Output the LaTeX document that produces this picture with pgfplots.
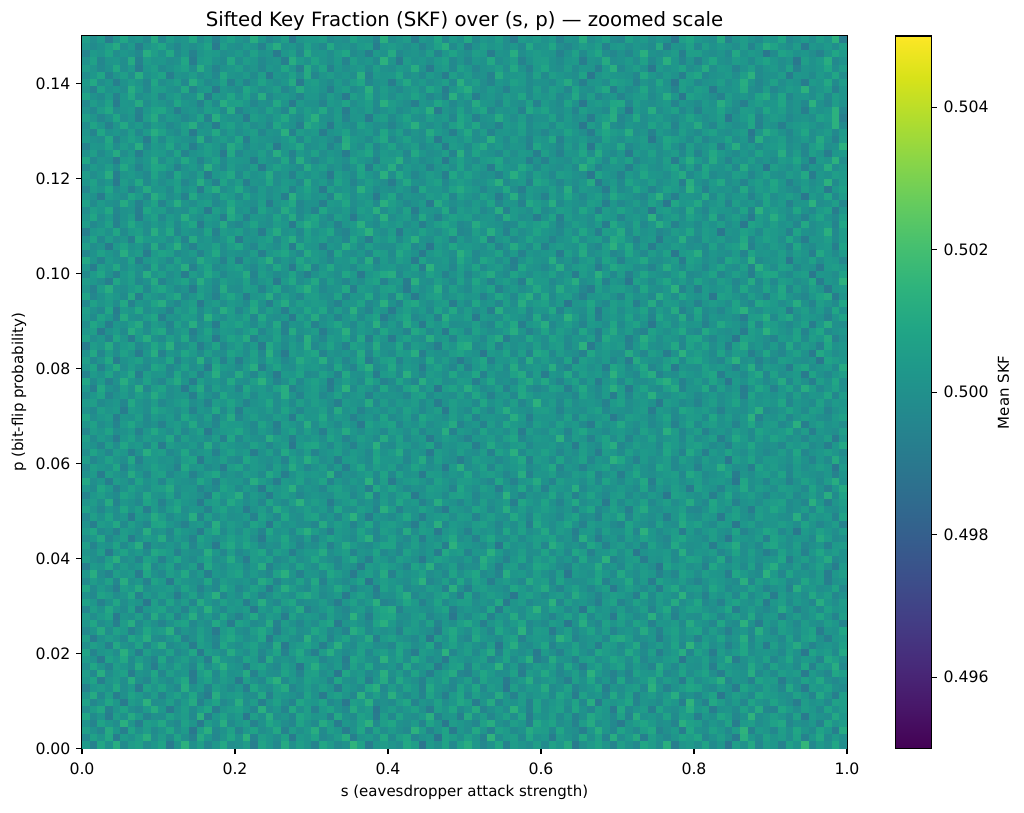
\documentclass[border=0pt]{standalone}
\usepackage{fontspec}
\setmainfont{DejaVu Sans}
\usepackage{pgfplots}
\pgfplotsset{compat=1.18}
\usepgfplotslibrary{colormaps}
\pgfdeclareplotmark{skfcell}{\pgfpathrectangle{\pgfpoint{-2.79pt}{-2.6pt}}{\pgfpoint{5.58pt}{5.2pt}}\pgfusepath{fill}}
% one grid row: #1 = row index j (p = 0.0015 j + 0.00075), #2 = values d of the 100 cells (s = 0.005 ... 0.995),
% Mean SKF = 0.5 + d * 0.0001
\newcommand\skfrow[2]{\addplot[scatter, only marks, scatter src=explicit, mark=skfcell, restrict x to domain=0:1]
  table[row sep=\\, header=false, x expr={\coordindex*0.01+0.005}, y expr={#1*0.0015+0.00075}, meta index=0] {#2};}
\begin{document}
\begin{tikzpicture}
\useasboundingbox (-59.04pt,-45.72pt) rectangle (678.24pt,538.92pt);
\begin{axis}[
  scale only axis, width=550.8pt, height=513pt,
  xmin=0, xmax=1, ymin=0, ymax=0.15,
  colormap/viridis, point meta min=-50, point meta max=50,
  axis line style={line width=0.8pt}, every tick/.style={black, line width=0.8pt},
  tick align=outside, major tick length=4pt,
  xtick pos=bottom, ytick pos=left,
  tick label style={font=\fontsize{11.3}{13.5}\selectfont},
  label style={font=\fontsize{10.8}{13}\selectfont},
  xtick={0,0.2,0.4,0.6,0.8,1}, xticklabels={0.0,0.2,0.4,0.6,0.8,1.0},
  ytick={0,0.02,0.04,0.06,0.08,0.10,0.12,0.14},
  yticklabels={0.00,0.02,0.04,0.06,0.08,0.10,0.12,0.14},
  xticklabel style={anchor=north, inner sep=0pt, yshift=-6.3pt},
  yticklabel style={anchor=east, inner sep=0pt, xshift=-4.1pt},
  every axis title shift=0pt,
  title={Sifted Key Fraction (SKF) over (s, p) — zoomed scale},
  title style={at={([yshift=6.8pt]axis description cs:0.5,1)}, anchor=base, font=\fontsize{14.2}{17}\selectfont},
  xlabel={s (eavesdropper attack strength)},
  xlabel style={at={([yshift=-31.5pt]axis description cs:0.5,0)}, anchor=center},
  ylabel={p (bit-flip probability)},
  ylabel style={at={([xshift=-45.4pt]axis description cs:0,0.5)}, anchor=center},
  colorbar,
  colorbar/width=25.92pt,
  colorbar style={
    at={(parent axis.north east)}, anchor=north west, xshift=26.3pt,
    scale only axis, width=25.92pt, height=513pt,
    axis line style={line width=0.8pt},
    tick align=outside, major tick length=4pt,
    ytick pos=right, yticklabel pos=right,
    tick label style={font=\fontsize{11.3}{13.5}\selectfont},
    ytick={-40,-20,0,20,40}, yticklabels={0.496,0.498,0.500,0.502,0.504},
    yticklabel style={anchor=west, inner sep=0pt, xshift=4.6pt},
    ylabel={Mean SKF},
    ylabel style={at={([xshift=51.8pt]axis description cs:1,0.5)}, anchor=center, font=\fontsize{10.8}{13}\selectfont},
  },
]
\skfrow{0}{4\\-6\\9\\1\\12\\-2\\5\\7\\-1\\3\\ 8\\-9\\2\\14\\0\\6\\-4\\3\\10\\-1\\ 1\\5\\-7\\8\\3\\-3\\11\\0\\6\\2\\ -5\\9\\4\\-2\\1\\15\\7\\-8\\3\\5\\ 2\\-1\\10\\6\\-11\\4\\0\\8\\-3\\7\\ 12\\3\\-4\\1\\9\\-6\\5\\2\\-1\\6\\ -2\\7\\3\\11\\-9\\0\\4\\8\\2\\-5\\ 6\\1\\-3\\9\\5\\-1\\13\\-7\\2\\4\\ 0\\8\\-2\\3\\-10\\6\\1\\10\\-4\\5\\ 3\\-6\\7\\2\\16\\-3\\4\\0\\9\\-1\\}
\skfrow{1}{-3\\7\\2\\10\\-8\\4\\1\\6\\13\\-1\\ 5\\-2\\8\\0\\-6\\11\\3\\-4\\2\\9\\ 1\\14\\-5\\6\\3\\-1\\7\\-9\\4\\2\\ 8\\-3\\0\\5\\12\\-7\\2\\4\\-1\\10\\ -2\\6\\9\\-4\\1\\3\\-11\\8\\5\\0\\ 7\\2\\-6\\15\\-1\\4\\6\\-3\\9\\1\\ 3\\-8\\5\\2\\-2\\10\\0\\7\\-5\\12\\ -1\\4\\11\\-7\\6\\1\\-3\\2\\8\\5\\ 9\\-4\\1\\6\\0\\-9\\13\\3\\-2\\7\\ 2\\5\\-1\\8\\-6\\3\\10\\-2\\4\\0\\}
\skfrow{2}{6\\1\\-4\\11\\3\\-7\\8\\0\\5\\-2\\ 2\\9\\-1\\4\\-10\\6\\13\\-3\\1\\7\\ -5\\3\\8\\-1\\2\\10\\-6\\5\\0\\4\\ 12\\-2\\6\\3\\-8\\1\\9\\-4\\7\\-1\\ 4\\0\\-3\\14\\5\\-5\\2\\8\\-9\\3\\ -1\\10\\2\\-6\\7\\4\\-2\\1\\11\\6\\ 5\\-3\\9\\1\\-1\\-7\\3\\12\\2\\-4\\ 8\\2\\-2\\6\\10\\-5\\0\\4\\-8\\9\\ 1\\-1\\7\\3\\-3\\5\\15\\-6\\4\\2\\ -4\\6\\0\\9\\2\\-2\\8\\3\\-7\\11\\}
\skfrow{3}{1\\-5\\8\\3\\-1\\13\\2\\-7\\6\\4\\ 10\\0\\-3\\7\\2\\-9\\5\\1\\12\\-2\\ 3\\6\\-6\\1\\9\\4\\-1\\-4\\8\\2\\ -2\\11\\5\\-8\\3\\0\\7\\14\\-3\\6\\ 9\\1\\-1\\4\\-5\\8\\2\\-10\\5\\3\\ 0\\-4\\7\\12\\1\\-2\\6\\3\\-7\\10\\ 4\\8\\-1\\2\\-6\\5\\11\\0\\3\\-3\\ -9\\2\\6\\9\\4\\-1\\1\\-5\\13\\7\\ 5\\-2\\3\\0\\8\\-8\\4\\6\\-1\\2\\ 7\\10\\-4\\1\\-1\\3\\-6\\9\\2\\5\\}
\skfrow{4}{9\\-2\\3\\-8\\6\\1\\11\\4\\-5\\0\\ -1\\7\\2\\5\\-3\\14\\-7\\3\\8\\1\\ 4\\-10\\6\\0\\12\\-1\\2\\-4\\9\\5\\ 2\\3\\-6\\10\\1\\-2\\7\\4\\-9\\6\\ -3\\8\\1\\-1\\4\\13\\-5\\2\\3\\-7\\ 11\\0\\5\\-4\\2\\7\\-1\\9\\-8\\3\\ 1\\6\\-2\\4\\-6\\0\\10\\5\\2\\-3\\ 7\\-5\\12\\1\\3\\-1\\8\\-2\\6\\4\\ -7\\3\\0\\9\\5\\-4\\1\\15\\-1\\2\\ 6\\2\\-3\\7\\-9\\4\\1\\-1\\10\\3\\}
\skfrow{5}{-1\\5\\10\\-6\\2\\8\\0\\-3\\4\\12\\ 3\\-9\\1\\6\\-2\\4\\9\\-7\\2\\5\\ 7\\2\\-4\\13\\-1\\3\\-5\\10\\0\\6\\ -6\\4\\8\\1\\-3\\11\\2\\5\\-10\\1\\ 5\\-1\\3\\7\\0\\-8\\6\\2\\9\\-2\\ 2\\11\\-5\\0\\4\\-1\\14\\3\\-6\\8\\ 0\\4\\7\\-2\\9\\1\\-4\\6\\3\\-9\\ 10\\-3\\2\\5\\-7\\8\\1\\-1\\4\\12\\ 3\\6\\-8\\1\\2\\-2\\7\\0\\11\\-4\\ -5\\9\\4\\-1\\6\\3\\-3\\8\\1\\5\\}
\skfrow{6}{7\\-4\\1\\9\\3\\-9\\5\\2\\14\\-1\\ 0\\6\\-2\\4\\11\\-6\\3\\8\\-3\\1\\ 12\\-1\\5\\-7\\2\\7\\0\\-5\\9\\4\\ 3\\8\\-3\\1\\-10\\6\\4\\13\\-2\\0\\ -2\\5\\9\\-5\\2\\0\\7\\-1\\3\\10\\ 6\\-8\\2\\11\\-4\\3\\1\\5\\-6\\8\\ -1\\3\\6\\0\\8\\-3\\12\\-9\\4\\2\\ 4\\9\\-5\\2\\1\\-2\\6\\3\\-7\\15\\ 1\\-6\\10\\5\\-1\\4\\-4\\8\\2\\0\\ 8\\2\\-1\\-8\\5\\1\\3\\-3\\7\\6\\}
\skfrow{7}{2\\11\\-3\\6\\-7\\0\\8\\4\\-1\\5\\ -5\\3\\7\\1\\9\\-2\\-8\\12\\2\\4\\ 6\\0\\-1\\10\\-6\\5\\3\\1\\-3\\8\\ 1\\-9\\4\\7\\2\\-4\\14\\0\\6\\-1\\ 13\\2\\-2\\3\\-5\\8\\1\\-7\\4\\9\\ -3\\6\\1\\-1\\11\\2\\-6\\5\\0\\3\\ 5\\-2\\9\\4\\-8\\7\\1\\3\\-4\\10\\ 0\\7\\-6\\2\\5\\-1\\4\\12\\-2\\1\\ -4\\3\\8\\-10\\1\\6\\2\\-3\\9\\5\\ 4\\1\\-1\\7\\3\\-5\\10\\2\\-7\\6\\}
\skfrow{8}{-6\\3\\5\\1\\10\\-1\\4\\-9\\7\\2\\ 8\\1\\-3\\12\\0\\4\\-5\\6\\2\\-2\\ 3\\-7\\9\\2\\-1\\6\\11\\-4\\1\\5\\ 0\\6\\2\\-8\\4\\1\\-2\\9\\13\\-3\\ 5\\-1\\7\\3\\-6\\10\\2\\0\\-4\\8\\ 1\\9\\-3\\5\\2\\-10\\6\\-1\\4\\3\\ 11\\-2\\1\\7\\-5\\0\\3\\8\\-7\\2\\ -1\\4\\6\\-3\\14\\2\\-6\\1\\5\\9\\ 7\\0\\-2\\4\\1\\-8\\8\\3\\-1\\6\\ 2\\-4\\10\\1\\-9\\5\\3\\7\\0\\-2\\}
\skfrow{9}{3\\8\\-7\\2\\5\\-1\\12\\0\\-4\\6\\ 1\\-2\\4\\10\\-8\\3\\7\\-1\\5\\2\\ -9\\6\\1\\-3\\8\\14\\-2\\4\\0\\7\\ 4\\2\\-5\\9\\1\\-1\\6\\-7\\3\\11\\ -2\\10\\3\\0\\-6\\5\\2\\8\\-3\\1\\ 6\\-4\\8\\2\\3\\-9\\0\\4\\12\\-1\\ 2\\5\\-1\\-7\\6\\1\\9\\-2\\3\\-5\\ 9\\-3\\0\\4\\11\\-1\\5\\2\\-8\\7\\ -1\\3\\6\\13\\-4\\2\\1\\-6\\8\\4\\ 5\\-8\\2\\-1\\7\\3\\10\\0\\-3\\1\\}
\skfrow{10}{5\\-3\\12\\-1\\4\\7\\-8\\2\\0\\9\\ -4\\6\\1\\3\\-9\\5\\10\\-2\\7\\1\\ 2\\11\\-6\\4\\0\\-1\\8\\3\\-5\\6\\ 7\\-1\\3\\-10\\9\\2\\4\\-3\\1\\13\\ 0\\5\\-2\\8\\1\\-7\\3\\6\\11\\-4\\ -6\\2\\9\\4\\-1\\0\\7\\-8\\5\\2\\ 10\\3\\-4\\1\\6\\-2\\14\\4\\-1\\-6\\ 1\\-5\\7\\3\\2\\9\\-3\\0\\8\\-1\\ 4\\8\\-1\\-7\\5\\2\\1\\12\\-2\\3\\ -2\\6\\3\\5\\-9\\4\\0\\-4\\9\\6\\}
\skfrow{11}{-1\\9\\2\\-5\\6\\3\\-2\\11\\1\\-8\\ 4\\0\\7\\2\\-4\\9\\-1\\5\\13\\3\\ 1\\-7\\5\\8\\0\\-3\\6\\2\\-10\\4\\ 12\\3\\-1\\4\\-6\\7\\1\\9\\-2\\0\\ 3\\-4\\10\\-1\\2\\5\\-9\\1\\6\\8\\ -5\\7\\1\\3\\14\\-2\\4\\-6\\0\\5\\ 2\\6\\-3\\9\\1\\-8\\3\\7\\-1\\4\\ 8\\-2\\4\\0\\-5\\11\\2\\-3\\6\\1\\ 0\\5\\-7\\6\\3\\1\\-1\\10\\2\\-4\\ 7\\1\\3\\-2\\9\\-6\\5\\2\\12\\-3\\}
\skfrow{12}{4\\1\\-9\\7\\3\\10\\-2\\5\\0\\-5\\ 9\\-3\\2\\6\\-1\\4\\-7\\12\\3\\1\\ -2\\8\\4\\-6\\11\\0\\2\\-1\\7\\5\\ 6\\-4\\1\\3\\-8\\9\\5\\0\\-2\\14\\ 2\\7\\-1\\10\\4\\-3\\1\\-9\\5\\3\\ 0\\3\\6\\-5\\1\\8\\-2\\4\\13\\-7\\ -3\\11\\2\\1\\-6\\5\\7\\-1\\3\\9\\ 5\\-1\\8\\-4\\2\\0\\4\\6\\-10\\2\\ 1\\6\\-2\\3\\12\\-8\\0\\5\\1\\7\\ -4\\2\\9\\-1\\4\\3\\-5\\10\\6\\0\\}
\skfrow{13}{8\\-5\\2\\4\\-1\\13\\3\\-7\\6\\1\\ 0\\7\\-3\\1\\9\\-9\\5\\2\\-1\\11\\ 3\\-1\\6\\-4\\2\\8\\-6\\4\\10\\0\\ -7\\5\\12\\2\\-2\\1\\7\\-3\\4\\6\\ 1\\9\\-1\\-8\\5\\3\\0\\14\\-4\\2\\ 6\\-2\\4\\11\\-5\\7\\2\\-1\\3\\-9\\ 4\\0\\-6\\3\\8\\1\\-3\\9\\5\\2\\ -1\\10\\3\\-2\\6\\-7\\1\\4\\12\\-4\\ 7\\2\\-8\\5\\0\\4\\9\\-1\\2\\3\\ 2\\-3\\6\\1\\-10\\8\\3\\5\\-2\\10\\}
\skfrow{14}{0\\6\\3\\-6\\10\\2\\-1\\8\\-4\\5\\ 12\\-2\\1\\4\\-8\\6\\3\\-5\\9\\2\\ -1\\4\\7\\0\\-3\\11\\-9\\2\\5\\8\\ 3\\-7\\2\\13\\1\\-2\\6\\4\\-1\\0\\ -4\\8\\5\\-1\\2\\9\\-6\\3\\7\\1\\ 5\\1\\-3\\6\\-10\\4\\12\\0\\-2\\3\\ 9\\-5\\2\\1\\7\\-1\\3\\-7\\6\\4\\ -2\\3\\10\\-4\\1\\5\\0\\8\\-3\\15\\ 2\\7\\-1\\3\\-6\\1\\9\\-2\\4\\-8\\ 6\\-1\\4\\11\\2\\-5\\1\\3\\0\\7\\}
\skfrow{15}{6\\-8\\1\\5\\2\\-3\\9\\4\\12\\-1\\ -2\\3\\8\\-6\\0\\7\\1\\-4\\6\\10\\ 4\\-1\\2\\9\\-9\\3\\5\\0\\-2\\13\\ 1\\6\\-5\\3\\8\\-1\\2\\11\\-7\\4\\ 7\\2\\0\\-3\\4\\-10\\6\\1\\9\\-1\\ -4\\10\\3\\1\\-2\\5\\8\\-6\\2\\4\\ 3\\-1\\14\\7\\-5\\0\\2\\4\\-3\\9\\ 11\\5\\-2\\0\\3\\-8\\1\\6\\-1\\2\\ -6\\4\\1\\8\\-1\\2\\12\\-4\\5\\3\\ 2\\-3\\7\\-2\\6\\9\\0\\-7\\3\\5\\}
\skfrow{16}{-3\\2\\11\\-1\\7\\4\\-6\\0\\9\\3\\ 5\\13\\-4\\2\\-1\\6\\1\\-9\\4\\8\\ 0\\-2\\5\\10\\3\\-7\\2\\6\\-1\\1\\ 9\\4\\-3\\1\\-5\\12\\7\\-2\\3\\0\\ 2\\-6\\6\\4\\1\\-1\\-8\\5\\10\\3\\ -1\\7\\2\\-4\\9\\3\\0\\14\\-2\\5\\ 4\\-9\\1\\6\\-3\\2\\8\\-1\\5\\-5\\ 1\\3\\-1\\11\\2\\-6\\4\\7\\0\\6\\ 8\\-2\\5\\0\\-7\\1\\3\\-3\\12\\2\\ -4\\6\\3\\-1\\4\\8\\-8\\2\\1\\9\\}
\skfrow{17}{2\\9\\-1\\3\\-7\\5\\12\\-2\\4\\0\\ -5\\1\\6\\8\\-3\\2\\-1\\10\\3\\-8\\ 7\\4\\-2\\0\\11\\-6\\5\\1\\-4\\3\\ -1\\6\\9\\-9\\2\\4\\1\\-3\\8\\13\\ 4\\-2\\1\\5\\-1\\7\\-5\\3\\0\\6\\ 10\\3\\-7\\2\\6\\-1\\4\\9\\-3\\1\\ -2\\5\\3\\-10\\1\\12\\0\\-4\\7\\2\\ 6\\-1\\8\\4\\-6\\3\\2\\5\\-2\\11\\ 3\\1\\-4\\9\\0\\-2\\14\\1\\-8\\4\\ 0\\7\\2\\-3\\5\\1\\-1\\6\\3\\-5\\}
\skfrow{18}{5\\-1\\4\\8\\-9\\2\\0\\6\\-3\\11\\ 1\\7\\-5\\3\\12\\-1\\4\\-2\\9\\0\\ -6\\2\\10\\-1\\5\\3\\-8\\7\\1\\4\\ 3\\-3\\6\\1\\-2\\14\\2\\-7\\5\\8\\ 9\\0\\-1\\4\\7\\-4\\1\\3\\-10\\2\\ -2\\4\\8\\-6\\3\\1\\11\\-1\\6\\5\\ 1\\-5\\2\\7\\0\\9\\-3\\4\\2\\-9\\ 7\\3\\-2\\1\\13\\-1\\5\\-6\\3\\0\\ -1\\8\\4\\-4\\2\\6\\0\\10\\-2\\3\\ 4\\-7\\1\\5\\-1\\3\\9\\2\\-5\\6\\}
\skfrow{19}{-4\\6\\1\\10\\2\\-2\\7\\-8\\3\\5\\ 8\\-1\\3\\-5\\6\\0\\13\\2\\-3\\4\\ 2\\5\\-9\\4\\1\\8\\-1\\3\\11\\-6\\ -1\\3\\7\\0\\-4\\2\\5\\-2\\6\\9\\ 12\\-6\\2\\3\\1\\-1\\4\\8\\-7\\0\\ 3\\1\\-2\\9\\-8\\6\\2\\-1\\5\\14\\ 0\\7\\4\\-3\\2\\-10\\8\\1\\3\\-1\\ 5\\-2\\1\\6\\-5\\4\\10\\-4\\2\\7\\ 6\\2\\-1\\3\\9\\-7\\1\\5\\0\\-3\\ 1\\11\\3\\-6\\0\\4\\-2\\7\\2\\4\\}
\skfrow{20}{7\\3\\-6\\1\\9\\-1\\4\\2\\-10\\6\\ -2\\8\\0\\5\\-4\\11\\3\\-1\\7\\2\\ 4\\-7\\2\\12\\1\\-3\\6\\9\\-2\\0\\ 1\\5\\-1\\-8\\3\\7\\0\\4\\13\\-5\\ -3\\2\\9\\4\\-6\\1\\8\\-2\\3\\6\\ 6\\-1\\3\\0\\10\\-9\\2\\5\\-3\\1\\ 2\\14\\-4\\6\\1\\3\\-1\\-7\\4\\8\\ -5\\0\\7\\2\\-2\\5\\1\\11\\-1\\3\\ 9\\-3\\1\\-6\\4\\8\\2\\0\\6\\-8\\ 3\\6\\-2\\4\\1\\-4\\12\\3\\-1\\5\\}
\skfrow{21}{1\\-3\\8\\5\\-1\\2\\10\\-6\\4\\0\\ 6\\2\\-8\\1\\7\\-2\\4\\13\\-4\\3\\ -1\\9\\3\\-5\\0\\6\\2\\-1\\8\\11\\ 5\\-2\\1\\4\\-9\\3\\7\\2\\-6\\1\\ 0\\6\\12\\-3\\2\\-1\\5\\9\\1\\-7\\ 8\\-4\\2\\6\\3\\0\\-10\\4\\7\\2\\ -2\\3\\5\\-1\\11\\4\\1\\-5\\2\\6\\ 4\\1\\-7\\9\\-2\\6\\3\\0\\14\\-1\\ 2\\-6\\4\\1\\5\\-3\\8\\-2\\3\\7\\ -8\\5\\0\\3\\-1\\10\\2\\6\\-4\\1\\}
\skfrow{22}{9\\-2\\4\\0\\-7\\6\\3\\11\\-1\\2\\ 3\\5\\-1\\8\\2\\-6\\1\\-3\\10\\4\\ -4\\1\\7\\3\\-9\\2\\12\\5\\0\\-2\\ 6\\-1\\2\\10\\4\\-5\\1\\3\\-8\\7\\ 2\\8\\-3\\1\\-1\\5\\3\\-6\\13\\0\\ -7\\4\\6\\2\\1\\-2\\9\\4\\-1\\5\\ 11\\0\\-5\\3\\7\\1\\-4\\2\\6\\-9\\ 1\\6\\2\\-2\\3\\-8\\5\\10\\-1\\4\\ 5\\-1\\9\\4\\-3\\1\\0\\7\\2\\-5\\ 0\\3\\-6\\12\\2\\4\\-1\\1\\8\\-3\\}
\skfrow{23}{-2\\5\\1\\7\\-4\\12\\0\\3\\-6\\8\\ 4\\-9\\6\\2\\1\\-1\\9\\-3\\5\\2\\ 1\\3\\-2\\11\\6\\-5\\2\\0\\7\\-1\\ 10\\-6\\4\\1\\-2\\3\\8\\-10\\2\\6\\ 3\\1\\-1\\5\\14\\-4\\0\\6\\-2\\9\\ -1\\7\\3\\-7\\2\\5\\1\\-3\\11\\4\\ 6\\-4\\8\\1\\-1\\0\\4\\9\\-6\\2\\ 2\\10\\-2\\4\\-8\\7\\3\\1\\5\\-1\\ -5\\1\\5\\3\\0\\-2\\13\\-4\\6\\2\\ 7\\4\\-3\\-1\\9\\2\\5\\-7\\1\\3\\}
\skfrow{24}{3\\12\\-1\\-5\\6\\2\\4\\-8\\9\\1\\ -3\\6\\2\\10\\-1\\4\\-7\\3\\1\\5\\ 8\\-1\\4\\0\\-4\\7\\13\\2\\-6\\3\\ 2\\-2\\9\\5\\1\\-9\\3\\6\\0\\11\\ -6\\4\\1\\3\\7\\-1\\2\\-3\\8\\0\\ 5\\9\\-2\\1\\-5\\12\\3\\4\\-1\\6\\ 1\\-3\\6\\-10\\4\\2\\0\\8\\3\\-2\\ 10\\2\\-1\\5\\3\\-6\\1\\-4\\7\\4\\ -1\\6\\3\\2\\-7\\9\\4\\0\\-2\\14\\ 4\\-4\\8\\1\\2\\-1\\5\\-8\\3\\6\\}
\skfrow{25}{-7\\4\\2\\9\\-1\\5\\0\\3\\11\\-3\\ 2\\7\\-4\\1\\6\\-8\\10\\2\\-1\\4\\ 5\\-2\\3\\12\\-6\\1\\4\\-1\\8\\2\\ -1\\9\\6\\-3\\2\\0\\-9\\5\\3\\7\\ 4\\1\\-5\\8\\3\\13\\-2\\1\\6\\-4\\ 0\\-1\\10\\2\\-7\\4\\6\\-3\\1\\9\\ 7\\3\\-2\\-5\\5\\1\\2\\11\\-1\\3\\ -3\\6\\1\\4\\-1\\-10\\8\\3\\5\\0\\ 2\\-6\\9\\3\\1\\4\\-2\\7\\-4\\6\\ 12\\1\\-1\\5\\-3\\2\\7\\0\\-8\\4\\}
\skfrow{26}{5\\0\\-3\\6\\13\\-1\\2\\-5\\7\\4\\ -6\\3\\9\\1\\-2\\4\\8\\-1\\2\\11\\ 1\\-8\\5\\3\\7\\-3\\0\\6\\-1\\2\\ 9\\2\\-1\\-4\\4\\10\\1\\-7\\5\\3\\ -2\\6\\3\\0\\-9\\2\\7\\4\\1\\-1\\ 4\\-3\\12\\5\\1\\-6\\3\\8\\-2\\6\\ 2\\7\\-1\\3\\-4\\9\\-1\\1\\14\\-5\\ -1\\4\\6\\-8\\2\\1\\5\\-2\\3\\8\\ 6\\-2\\1\\10\\-5\\3\\0\\4\\-1\\2\\ 3\\9\\-7\\2\\6\\-1\\4\\11\\-3\\1\\}
\skfrow{27}{2\\-1\\6\\-9\\3\\8\\1\\4\\-2\\10\\ 7\\4\\-6\\2\\0\\-1\\12\\3\\-4\\5\\ -3\\1\\5\\9\\-2\\6\\3\\-7\\1\\4\\ 4\\11\\-1\\3\\6\\-5\\2\\1\\8\\-3\\ 1\\-4\\7\\2\\-1\\3\\-8\\10\\4\\6\\ -5\\3\\2\\13\\4\\-2\\1\\6\\-1\\0\\ 8\\-1\\4\\-3\\9\\5\\-6\\2\\3\\7\\ 0\\6\\-10\\1\\3\\2\\4\\-2\\12\\-1\\ 3\\2\\5\\-4\\1\\8\\-1\\6\\0\\-7\\ -2\\7\\1\\4\\-6\\3\\9\\2\\5\\1\\}
\skfrow{28}{6\\-5\\3\\1\\8\\-2\\4\\12\\-7\\2\\ 0\\3\\-1\\7\\-4\\5\\2\\-9\\6\\10\\ 2\\9\\4\\-3\\1\\-1\\7\\3\\-5\\1\\ -1\\5\\-6\\2\\11\\4\\0\\-2\\3\\8\\ 8\\-3\\1\\6\\-1\\2\\5\\-7\\14\\4\\ 3\\1\\-2\\4\\-10\\7\\1\\3\\-1\\6\\ -4\\12\\6\\0\\2\\-3\\9\\4\\-6\\2\\ 5\\-1\\3\\-5\\7\\1\\-2\\10\\2\\0\\ 1\\4\\-8\\3\\5\\11\\-1\\2\\-3\\7\\ 9\\2\\-1\\6\\-4\\0\\3\\-6\\4\\5\\}
\skfrow{29}{-1\\3\\10\\-4\\2\\6\\-8\\1\\5\\3\\ 11\\-2\\4\\1\\-6\\8\\3\\-1\\2\\7\\ 3\\6\\-1\\-9\\4\\2\\9\\0\\-3\\5\\ -5\\2\\8\\4\\1\\-2\\6\\13\\-4\\1\\ 7\\1\\-3\\5\\-7\\3\\0\\4\\10\\-1\\ 2\\-6\\4\\9\\1\\-1\\5\\-2\\3\\6\\ 4\\8\\-1\\2\\-5\\12\\2\\-8\\1\\3\\ -3\\5\\1\\7\\3\\-1\\-4\\6\\9\\2\\ 1\\-2\\6\\0\\-10\\4\\3\\1\\5\\-6\\ 8\\4\\-1\\3\\2\\-3\\11\\5\\-2\\0\\}
\skfrow{30}{4\\9\\-2\\1\\-6\\5\\3\\-1\\12\\0\\ 2\\-4\\7\\3\\1\\-8\\5\\10\\-2\\4\\ -1\\6\\2\\-5\\9\\1\\3\\-3\\7\\13\\ 5\\0\\-7\\4\\2\\-1\\8\\1\\-4\\6\\ 3\\-2\\11\\-1\\6\\4\\-9\\2\\5\\1\\ -6\\4\\1\\3\\-2\\9\\0\\7\\-1\\2\\ 10\\-1\\5\\2\\-7\\3\\4\\-3\\6\\1\\ 1\\7\\-4\\14\\3\\-2\\2\\5\\-8\\4\\ -2\\3\\6\\1\\-1\\8\\-5\\0\\3\\9\\ 6\\-3\\2\\-10\\4\\1\\7\\3\\-1\\5\\}
\skfrow{31}{1\\-7\\5\\3\\10\\-2\\6\\1\\-4\\8\\ 9\\3\\-1\\-6\\2\\4\\-3\\12\\1\\5\\ 2\\-2\\8\\4\\-9\\6\\1\\3\\-1\\0\\ -4\\11\\1\\6\\3\\-5\\2\\9\\-2\\4\\ 6\\2\\-1\\-8\\5\\1\\13\\-3\\4\\2\\ 0\\5\\7\\2\\-4\\3\\-1\\6\\-7\\10\\ 3\\-1\\4\\9\\1\\-6\\5\\2\\3\\-2\\ -5\\8\\2\\0\\-3\\7\\1\\-1\\11\\4\\ 7\\1\\-2\\5\\4\\-10\\3\\6\\-1\\2\\ 2\\6\\3\\-1\\8\\2\\-4\\1\\5\\-6\\}
\skfrow{32}{-3\\6\\1\\8\\-1\\3\\-9\\4\\2\\11\\ 5\\-2\\3\\1\\12\\-5\\6\\-1\\4\\0\\ 1\\4\\-6\\7\\2\\-3\\9\\1\\-1\\6\\ 8\\-1\\3\\-4\\5\\14\\2\\-8\\3\\1\\ -2\\3\\9\\1\\-7\\2\\4\\6\\-1\\5\\ 4\\-5\\2\\6\\1\\-1\\10\\3\\-4\\7\\ 2\\1\\-3\\4\\8\\-2\\0\\-6\\5\\3\\ 10\\-4\\6\\2\\-1\\3\\-7\\2\\9\\1\\ -1\\5\\3\\-9\\4\\7\\1\\-2\\6\\2\\ 3\\0\\-1\\12\\-3\\5\\2\\4\\-5\\8\\}
\skfrow{33}{7\\2\\-4\\3\\-1\\9\\1\\6\\-7\\4\\ -2\\5\\10\\-1\\3\\2\\-6\\4\\8\\1\\ 3\\-8\\1\\5\\-2\\11\\4\\-1\\2\\6\\ 1\\4\\-3\\9\\0\\-1\\6\\3\\-5\\13\\ 5\\-6\\2\\1\\7\\3\\-2\\-9\\4\\2\\ -1\\8\\4\\-3\\2\\12\\1\\5\\-1\\3\\ 6\\3\\-1\\2\\-5\\4\\9\\-4\\1\\7\\ 2\\-7\\5\\11\\1\\-1\\3\\2\\6\\-3\\ -4\\1\\8\\3\\-1\\6\\0\\-8\\5\\2\\ 9\\4\\-2\\1\\5\\-3\\7\\1\\-1\\4\\}
\skfrow{34}{2\\5\\-1\\11\\-5\\3\\1\\-3\\8\\4\\ -6\\2\\7\\3\\1\\-9\\4\\6\\-1\\10\\ 4\\-1\\3\\-4\\8\\1\\-2\\5\\14\\2\\ 6\\3\\-8\\1\\4\\7\\-1\\2\\-3\\5\\ -1\\9\\2\\4\\-6\\0\\12\\3\\1\\-4\\ 3\\-2\\6\\-1\\2\\5\\-7\\9\\4\\1\\ 8\\1\\-5\\3\\10\\-1\\2\\4\\-9\\6\\ -2\\4\\1\\7\\-3\\2\\6\\-1\\3\\11\\ 1\\-3\\9\\2\\5\\-6\\1\\3\\-1\\4\\ 5\\7\\-2\\1\\-4\\13\\3\\-7\\2\\6\\}
\skfrow{35}{-5\\3\\6\\1\\-2\\8\\4\\-1\\10\\2\\ 1\\7\\-3\\4\\2\\-1\\-7\\9\\3\\5\\ 12\\-2\\4\\1\\-8\\3\\6\\2\\-4\\1\\ 3\\1\\-1\\6\\5\\-3\\2\\11\\-6\\4\\ -1\\5\\8\\-9\\1\\4\\3\\-2\\6\\7\\ 4\\-4\\2\\3\\-1\\14\\1\\-5\\2\\0\\ 2\\9\\-1\\5\\-6\\2\\8\\1\\-3\\4\\ 6\\-2\\3\\-1\\4\\1\\-10\\7\\5\\2\\ 0\\4\\-7\\2\\9\\-1\\3\\6\\1\\-4\\ 3\\1\\5\\-3\\2\\6\\-1\\12\\-2\\8\\}
\skfrow{36}{3\\-2\\9\\4\\-6\\1\\7\\2\\-1\\5\\ 6\\11\\-1\\2\\3\\-5\\1\\-3\\8\\4\\ -2\\4\\1\\-9\\6\\2\\5\\13\\-1\\3\\ 1\\-4\\5\\7\\2\\-1\\3\\-7\\10\\2\\ 8\\2\\-3\\1\\-1\\6\\4\\2\\-5\\9\\ 2\\-1\\6\\3\\-8\\4\\1\\9\\-2\\5\\ -6\\5\\3\\1\\12\\-3\\2\\4\\-1\\1\\ 4\\1\\-2\\8\\-4\\3\\-1\\6\\2\\-9\\ 7\\3\\1\\-5\\4\\2\\10\\-1\\5\\3\\ -1\\6\\4\\2\\-3\\8\\1\\-6\\3\\11\\}
\skfrow{37}{10\\-1\\3\\-7\\5\\2\\-3\\8\\1\\4\\ -4\\6\\2\\1\\-1\\9\\3\\-6\\5\\2\\ 3\\-2\\12\\5\\1\\-8\\4\\2\\7\\-1\\ 2\\8\\-5\\3\\-1\\4\\1\\14\\-3\\6\\ -9\\1\\4\\6\\2\\-2\\7\\3\\-1\\5\\ 5\\3\\-1\\-4\\9\\1\\-6\\2\\4\\11\\ 1\\-5\\6\\2\\3\\-1\\5\\-3\\8\\2\\ -2\\4\\1\\10\\-7\\6\\2\\4\\-1\\3\\ 6\\-1\\3\\4\\1\\-10\\9\\0\\2\\-4\\ 4\\2\\-6\\1\\7\\3\\-2\\5\\12\\1\\}
\skfrow{38}{1\\4\\-8\\6\\2\\-1\\11\\3\\-4\\5\\ 7\\-3\\2\\4\\-6\\1\\5\\9\\-1\\2\\ -1\\5\\3\\-2\\10\\4\\-7\\1\\6\\3\\ 4\\2\\13\\-5\\1\\-1\\3\\6\\-2\\8\\ -3\\7\\1\\2\\-9\\5\\4\\-1\\3\\1\\ 9\\-1\\4\\6\\2\\-4\\1\\12\\-6\\3\\ 2\\6\\-2\\-1\\5\\3\\8\\-5\\1\\4\\ -7\\3\\9\\1\\-1\\2\\4\\6\\-3\\10\\ 5\\-2\\1\\3\\7\\-8\\2\\-1\\4\\6\\ 1\\8\\-4\\5\\2\\1\\-1\\3\\-6\\2\\}
\skfrow{39}{-2\\6\\3\\1\\9\\-5\\4\\-1\\2\\7\\ 3\\1\\-6\\10\\2\\4\\-2\\1\\-8\\5\\ 8\\-1\\4\\2\\-3\\6\\1\\11\\3\\-4\\ 1\\5\\-2\\4\\-7\\3\\9\\-1\\6\\2\\ 6\\-3\\1\\8\\3\\-1\\2\\-9\\4\\13\\ -1\\2\\7\\-4\\5\\1\\3\\6\\-2\\1\\ 4\\10\\-5\\3\\1\\-6\\2\\4\\7\\-1\\ 2\\-1\\6\\1\\-2\\9\\5\\-3\\1\\3\\ -6\\3\\2\\12\\4\\-1\\1\\-7\\8\\2\\ 5\\1\\-3\\4\\-1\\2\\6\\3\\-10\\4\\}
\skfrow{40}{5\\-4\\1\\7\\2\\-1\\10\\-6\\3\\4\\ 1\\2\\-2\\5\\8\\-9\\3\\1\\6\\-1\\ -3\\9\\4\\1\\-1\\3\\-5\\7\\2\\12\\ 6\\-1\\2\\-7\\4\\5\\1\\-2\\9\\3\\ 2\\4\\-4\\3\\11\\-2\\6\\1\\-1\\-8\\ -1\\6\\3\\2\\-3\\1\\4\\10\\-6\\5\\ 3\\-2\\8\\-1\\2\\7\\-4\\3\\1\\14\\ 9\\1\\-6\\4\\-1\\2\\5\\-3\\6\\2\\ -2\\5\\1\\3\\-10\\6\\2\\8\\-1\\4\\ 4\\2\\-1\\6\\1\\-5\\3\\-2\\11\\1\\}
\skfrow{41}{-1\\8\\2\\-4\\5\\3\\-7\\1\\12\\4\\ 6\\-3\\1\\9\\-1\\2\\4\\-6\\3\\7\\ 2\\4\\-8\\1\\6\\-2\\10\\3\\-1\\5\\ -5\\1\\3\\6\\-1\\4\\2\\-3\\8\\1\\ 4\\11\\-2\\3\\1\\-9\\5\\2\\-1\\6\\ 1\\-1\\5\\-6\\7\\3\\13\\-2\\4\\2\\ 7\\3\\-4\\2\\-1\\6\\1\\-8\\5\\3\\ -2\\6\\1\\4\\3\\-1\\9\\2\\-5\\10\\ 3\\-7\\4\\1\\8\\2\\-1\\5\\1\\-3\\ 0\\5\\-1\\9\\-4\\1\\3\\6\\2\\-2\\}
\skfrow{42}{3\\1\\-5\\6\\-1\\9\\2\\4\\-3\\7\\ -8\\5\\2\\1\\4\\-2\\11\\-1\\6\\3\\ 1\\-1\\7\\3\\-4\\2\\5\\-10\\4\\8\\ 9\\2\\-3\\5\\1\\-6\\3\\1\\13\\-1\\ -2\\6\\4\\-1\\3\\8\\-5\\2\\1\\4\\ 5\\-7\\1\\10\\2\\-1\\4\\6\\-3\\2\\ 2\\4\\-1\\3\\-8\\5\\1\\-2\\7\\12\\ -4\\1\\6\\2\\3\\-3\\8\\4\\-1\\5\\ 7\\3\\-2\\1\\-6\\4\\2\\9\\1\\-1\\ 1\\-4\\5\\3\\6\\-2\\1\\-7\\3\\10\\}
\skfrow{43}{6\\-2\\4\\1\\-8\\3\\7\\-1\\5\\2\\ 2\\10\\-4\\6\\1\\3\\-1\\5\\-6\\9\\ -3\\4\\1\\-1\\12\\5\\2\\-7\\3\\1\\ 4\\-1\\8\\3\\-5\\1\\6\\2\\-2\\11\\ 1\\7\\-3\\2\\4\\-9\\1\\5\\3\\-1\\ -6\\3\\2\\5\\-1\\6\\9\\-4\\1\\4\\ 3\\1\\14\\-2\\5\\2\\-6\\3\\8\\-1\\ 5\\-5\\3\\1\\7\\-1\\2\\4\\-3\\6\\ -1\\2\\6\\-7\\1\\10\\4\\-2\\5\\1\\ 8\\4\\-1\\2\\-4\\3\\1\\6\\-9\\3\\}
\skfrow{44}{-4\\5\\2\\8\\-1\\1\\4\\-6\\3\\10\\ 3\\-1\\6\\-3\\2\\7\\-9\\1\\4\\5\\ 9\\2\\-2\\4\\1\\-5\\3\\8\\-1\\6\\ 1\\-7\\5\\2\\11\\3\\-1\\4\\2\\-3\\ 5\\3\\-1\\6\\-4\\2\\1\\12\\-6\\4\\ 2\\-2\\8\\1\\3\\-1\\6\\-8\\5\\1\\ -1\\6\\3\\-5\\4\\9\\2\\1\\-2\\3\\ 4\\1\\-3\\7\\2\\-1\\13\\5\\-4\\2\\ 6\\-6\\1\\3\\-1\\5\\2\\-2\\8\\4\\ 2\\4\\9\\-1\\5\\-7\\3\\1\\-1\\6\\}
\skfrow{45}{2\\7\\-1\\3\\-5\\4\\9\\2\\-2\\1\\ -6\\3\\5\\1\\10\\-1\\2\\-4\\6\\4\\ 4\\1\\-3\\8\\2\\-7\\5\\3\\-1\\12\\ -1\\6\\2\\-2\\4\\1\\-9\\7\\3\\5\\ 8\\-4\\3\\1\\6\\-1\\2\\4\\11\\-5\\ 1\\3\\-6\\5\\-1\\9\\4\\2\\-3\\6\\ 3\\-1\\7\\2\\4\\-2\\-8\\6\\1\\3\\ 10\\2\\-1\\4\\-3\\1\\5\\-6\\2\\8\\ -2\\4\\6\\1\\3\\-5\\2\\9\\-1\\4\\ 5\\-3\\1\\13\\-7\\2\\6\\1\\3\\-1\\}
\skfrow{46}{8\\-1\\3\\5\\-7\\2\\1\\6\\-3\\4\\ 1\\4\\-2\\9\\3\\-1\\6\\-5\\2\\11\\ -4\\2\\6\\1\\-1\\5\\3\\-8\\7\\2\\ 3\\10\\-1\\4\\2\\-6\\1\\3\\-2\\8\\ -2\\1\\5\\-3\\9\\4\\2\\-1\\6\\1\\ 6\\-5\\2\\3\\1\\-1\\12\\4\\-7\\3\\ 2\\3\\-1\\7\\-4\\6\\1\\2\\5\\-9\\ -1\\6\\4\\2\\-2\\3\\8\\-3\\1\\5\\ 4\\-2\\9\\1\\5\\-1\\3\\14\\-6\\2\\ 1\\5\\-4\\2\\6\\3\\-1\\-2\\4\\7\\}
\skfrow{47}{1\\-3\\6\\2\\4\\-8\\5\\3\\-1\\9\\ 5\\2\\-1\\4\\-6\\3\\1\\10\\-2\\6\\ -7\\4\\3\\1\\5\\-1\\8\\2\\-4\\3\\ 2\\6\\-2\\11\\1\\4\\-5\\1\\3\\-1\\ 4\\-1\\7\\3\\-3\\2\\6\\-9\\5\\1\\ -2\\8\\1\\-4\\4\\12\\3\\1\\-1\\5\\ 6\\3\\-5\\2\\1\\-1\\4\\7\\-3\\2\\ 1\\-1\\3\\5\\-8\\4\\2\\-2\\9\\6\\ 3\\5\\1\\-6\\2\\1\\-1\\4\\13\\-3\\ -1\\2\\8\\3\\-2\\6\\4\\-5\\1\\4\\}
\skfrow{48}{4\\6\\-2\\1\\3\\-4\\10\\2\\-1\\5\\ -3\\1\\4\\7\\-1\\2\\-6\\5\\3\\8\\ 2\\-5\\1\\3\\9\\-1\\4\\-2\\6\\1\\ 6\\3\\-1\\-7\\4\\2\\1\\11\\-3\\5\\ -1\\4\\2\\5\\-2\\3\\-8\\1\\6\\2\\ 3\\-2\\9\\1\\4\\-1\\6\\-4\\2\\14\\ 1\\5\\-3\\6\\-1\\2\\3\\1\\-6\\4\\ 7\\-1\\2\\4\\1\\-9\\5\\3\\-2\\1\\ -5\\2\\6\\-1\\3\\8\\-1\\5\\2\\4\\ 2\\9\\-4\\3\\1\\-2\\7\\-1\\4\\3\\}
\skfrow{49}{-2\\3\\8\\-5\\1\\4\\-1\\6\\2\\11\\ 4\\-1\\2\\3\\-7\\6\\1\\-3\\9\\2\\ 1\\6\\-2\\4\\3\\-1\\12\\2\\-5\\4\\ 5\\-3\\1\\7\\-1\\2\\4\\-6\\3\\1\\ 2\\1\\-4\\5\\8\\-2\\3\\1\\-1\\6\\ -1\\9\\3\\-6\\2\\4\\-3\\10\\5\\1\\ 3\\2\\-1\\1\\-4\\7\\2\\-2\\4\\-8\\ 6\\-4\\5\\2\\13\\1\\-1\\3\\6\\2\\ -3\\1\\4\\-1\\2\\5\\-7\\8\\1\\3\\ 1\\4\\-2\\6\\-1\\3\\2\\9\\-4\\5\\}
\skfrow{50}{3\\-7\\10\\1\\-2\\6\\0\\13\\-4\\5\\ 8\\-1\\2\\-9\\4\\11\\-3\\6\\1\\3\\ -5\\9\\2\\4\\-1\\7\\12\\-6\\0\\3\\ 6\\1\\-8\\3\\14\\-2\\5\\2\\-4\\9\\ 0\\-3\\7\\11\\-1\\4\\-10\\5\\8\\2\\ 12\\4\\-2\\1\\6\\-6\\3\\9\\-1\\-4\\ -1\\7\\5\\-7\\2\\10\\1\\-3\\4\\13\\ 5\\-9\\3\\8\\0\\-2\\6\\11\\-5\\2\\ 2\\10\\-4\\6\\-1\\3\\-8\\1\\9\\4\\ -6\\3\\8\\-1\\12\\5\\-3\\2\\7\\0\\}
\skfrow{51}{9\\-2\\4\\-6\\1\\12\\3\\-1\\7\\0\\ -4\\5\\11\\2\\-8\\6\\1\\3\\-1\\10\\ 1\\-1\\6\\14\\3\\-5\\0\\8\\-3\\4\\ 7\\3\\-9\\1\\5\\2\\-2\\10\\4\\-6\\ -2\\8\\1\\-4\\12\\3\\6\\-1\\0\\5\\ 4\\-7\\2\\9\\-1\\1\\-3\\6\\11\\3\\ 10\\1\\-5\\3\\7\\-2\\4\\-8\\2\\6\\ -3\\6\\0\\-1\\2\\9\\13\\4\\-6\\1\\ 5\\-1\\8\\2\\-10\\4\\1\\7\\3\\-2\\ 2\\11\\-3\\5\\0\\-7\\6\\1\\9\\-1\\}
\skfrow{52}{-5\\4\\1\\8\\-1\\3\\10\\-7\\6\\2\\ 3\\-3\\9\\0\\5\\-6\\2\\12\\1\\-1\\ 11\\2\\-4\\6\\1\\-9\\4\\3\\8\\-2\\ -1\\7\\3\\-5\\10\\1\\0\\6\\-8\\4\\ 6\\-2\\13\\2\\-4\\5\\3\\-1\\9\\1\\ 2\\9\\-6\\4\\0\\-1\\7\\11\\-3\\5\\ -8\\3\\1\\10\\-2\\6\\2\\4\\-1\\14\\ 4\\0\\-3\\7\\12\\-5\\1\\-1\\6\\3\\ 1\\6\\9\\-7\\3\\2\\-2\\5\\10\\-4\\ 7\\-1\\2\\4\\-9\\8\\1\\-3\\3\\6\\}
\skfrow{53}{2\\8\\-6\\3\\11\\-1\\5\\0\\-3\\9\\ 6\\-4\\1\\7\\-1\\3\\-9\\10\\4\\2\\ -2\\5\\12\\-7\\2\\8\\1\\-1\\6\\3\\ 4\\1\\-3\\9\\0\\-5\\6\\13\\-2\\1\\ 10\\-1\\4\\2\\-8\\3\\7\\1\\-4\\6\\ -6\\3\\8\\1\\5\\-2\\11\\-1\\2\\4\\ 1\\12\\-1\\-5\\6\\4\\0\\3\\-7\\9\\ 5\\-2\\3\\10\\-4\\1\\8\\-9\\2\\0\\ -1\\7\\2\\4\\1\\-6\\3\\12\\-3\\5\\ 3\\1\\-8\\6\\9\\-1\\2\\4\\-2\\11\\}
\skfrow{54}{6\\-3\\2\\10\\-8\\1\\4\\7\\-1\\3\\ 1\\9\\-5\\3\\0\\13\\-2\\6\\-6\\4\\ -7\\2\\6\\-1\\8\\4\\-3\\1\\11\\5\\ 3\\12\\-1\\4\\-4\\2\\9\\-8\\0\\6\\ 8\\-5\\3\\1\\-2\\10\\1\\5\\-1\\-9\\ -1\\4\\9\\-6\\3\\2\\6\\-3\\12\\1\\ 5\\1\\-2\\8\\-7\\6\\3\\0\\4\\-4\\ 2\\-8\\11\\3\\1\\-1\\5\\9\\-2\\7\\ 9\\3\\-1\\-4\\6\\14\\0\\2\\-6\\1\\ -3\\6\\4\\1\\-1\\2\\-10\\8\\5\\3\\}
\skfrow{55}{1\\10\\-4\\5\\-1\\7\\2\\-8\\3\\12\\ -6\\3\\1\\9\\4\\-2\\6\\0\\-1\\8\\ 4\\-1\\7\\-3\\13\\1\\-9\\5\\2\\6\\ 9\\-5\\2\\0\\3\\-1\\11\\-4\\7\\1\\ -2\\6\\4\\12\\-7\\3\\1\\-1\\5\\8\\ 3\\1\\-10\\4\\2\\8\\-2\\6\\-5\\10\\ 7\\-3\\5\\1\\-1\\-6\\9\\2\\4\\0\\ -1\\11\\2\\-4\\6\\3\\-8\\1\\14\\3\\ 6\\2\\-2\\8\\-1\\5\\4\\-7\\0\\9\\ 0\\-4\\3\\7\\1\\-9\\10\\4\\-1\\2\\}
\skfrow{56}{-8\\5\\2\\11\\-1\\4\\7\\-3\\1\\9\\ 3\\13\\-2\\0\\6\\-7\\1\\8\\-4\\2\\ 6\\-1\\4\\-9\\10\\3\\-2\\5\\1\\12\\ -3\\2\\8\\1\\-6\\7\\4\\-1\\11\\0\\ 1\\9\\-4\\5\\3\\-1\\-8\\6\\2\\10\\ 12\\-2\\1\\7\\-5\\4\\0\\3\\-1\\6\\ -1\\4\\6\\-3\\2\\14\\-9\\1\\5\\3\\ 5\\-6\\3\\9\\1\\-1\\2\\10\\-4\\7\\ 2\\8\\-1\\4\\-7\\6\\11\\0\\3\\-2\\ 4\\-3\\10\\-1\\5\\2\\-6\\9\\1\\3\\}
\skfrow{57}{7\\-1\\3\\-5\\9\\2\\-8\\4\\12\\1\\ -2\\6\\1\\10\\-4\\3\\5\\-9\\2\\8\\ 4\\11\\-6\\2\\0\\7\\-1\\3\\-3\\13\\ 1\\-4\\5\\3\\8\\-2\\10\\-7\\6\\2\\ -9\\3\\7\\1\\-1\\12\\2\\4\\-5\\6\\ 5\\2\\-3\\6\\11\\-8\\1\\-1\\9\\3\\ -1\\8\\4\\-2\\3\\1\\6\\-6\\10\\4\\ 3\\-7\\1\\12\\5\\-1\\4\\2\\-3\\8\\ 9\\0\\-4\\3\\1\\-10\\7\\5\\2\\-1\\ -5\\4\\2\\8\\-2\\6\\3\\11\\-6\\1\\}
\skfrow{58}{3\\6\\-9\\1\\4\\-2\\12\\5\\-1\\7\\ 10\\-3\\2\\5\\-7\\1\\8\\-1\\4\\3\\ -1\\4\\9\\-4\\2\\6\\-6\\11\\0\\2\\ 5\\-8\\1\\3\\13\\-1\\4\\2\\-3\\9\\ 2\\1\\-5\\10\\6\\-2\\3\\-9\\7\\4\\ -4\\7\\3\\-1\\1\\5\\12\\2\\-6\\0\\ 8\\-1\\6\\2\\-3\\9\\1\\-7\\4\\11\\ 1\\5\\-2\\-6\\7\\3\\0\\4\\10\\-1\\ -3\\10\\4\\1\\-1\\2\\-8\\6\\3\\14\\ 6\\2\\-1\\7\\-5\\4\\9\\-2\\1\\3\\}
\skfrow{59}{-1\\9\\4\\-7\\3\\1\\6\\11\\-2\\5\\ 2\\-5\\7\\1\\12\\-1\\3\\-8\\6\\4\\ 8\\3\\-2\\5\\-1\\10\\-6\\2\\1\\7\\ -6\\1\\4\\9\\2\\-3\\5\\1\\13\\-1\\ 4\\-2\\11\\3\\-9\\6\\2\\7\\-1\\0\\ 1\\6\\-1\\-4\\8\\2\\10\\-7\\3\\5\\ 12\\-3\\2\\6\\1\\-5\\4\\3\\-1\\9\\ -2\\4\\8\\1\\-10\\3\\6\\-1\\5\\2\\ 3\\-6\\1\\10\\4\\2\\-2\\9\\-4\\7\\ 5\\1\\-3\\2\\7\\-8\\3\\12\\0\\-1\\}
\skfrow{60}{4\\-2\\8\\3\\-6\\11\\1\\-1\\5\\9\\ -7\\2\\1\\6\\4\\-3\\13\\3\\-1\\5\\ 2\\7\\-4\\10\\1\\-1\\3\\-9\\6\\1\\ 11\\-1\\3\\-5\\2\\6\\-2\\4\\8\\-8\\ 0\\5\\9\\-3\\1\\4\\-6\\12\\3\\2\\ 6\\-9\\4\\2\\-1\\7\\3\\1\\-4\\10\\ -3\\3\\1\\14\\5\\-2\\6\\-7\\2\\4\\ 1\\8\\-1\\4\\-5\\9\\2\\0\\11\\-3\\ 7\\-4\\3\\1\\2\\-1\\-8\\5\\6\\12\\ -2\\6\\10\\-1\\4\\3\\1\\-6\\2\\8\\}
\skfrow{61}{6\\1\\-3\\9\\-8\\4\\2\\10\\-1\\3\\ 1\\-6\\5\\2\\8\\-2\\4\\-1\\12\\6\\ -4\\3\\11\\-1\\6\\2\\-7\\4\\1\\9\\ 3\\9\\-2\\5\\-1\\13\\0\\-5\\4\\2\\ -9\\2\\6\\1\\4\\-3\\8\\1\\10\\-1\\ 5\\-1\\3\\-7\\12\\1\\2\\6\\-4\\3\\ 2\\10\\-5\\4\\1\\-1\\7\\-9\\3\\6\\ -1\\4\\2\\8\\-3\\5\\1\\11\\-6\\0\\ 9\\-2\\1\\-4\\3\\7\\14\\2\\-1\\4\\ 3\\5\\-8\\2\\6\\-1\\4\\-3\\9\\1\\}
\skfrow{62}{-3\\7\\2\\5\\-1\\10\\-6\\3\\1\\8\\ 12\\1\\-4\\3\\6\\-9\\2\\5\\-1\\4\\ 2\\-2\\9\\1\\-7\\4\\11\\0\\6\\3\\ 5\\4\\-1\\-6\\3\\2\\8\\-3\\1\\13\\ 1\\-5\\7\\10\\2\\-1\\4\\6\\-8\\3\\ -2\\9\\1\\3\\-4\\6\\-1\\12\\2\\5\\ 7\\-1\\4\\-10\\2\\3\\9\\1\\-3\\6\\ 3\\6\\-7\\1\\11\\-2\\5\\4\\-1\\2\\ -6\\2\\5\\3\\-1\\8\\0\\-4\\10\\7\\ 4\\-1\\3\\12\\1\\-5\\6\\2\\-2\\9\\}
\skfrow{63}{8\\-4\\1\\6\\3\\-2\\11\\-7\\5\\2\\ -1\\5\\10\\-3\\2\\7\\1\\-6\\4\\9\\ 3\\-8\\2\\4\\12\\-1\\6\\1\\-4\\5\\ 6\\1\\-1\\8\\-5\\3\\2\\10\\-2\\4\\ -4\\11\\3\\-9\\1\\5\\7\\-1\\2\\6\\ 2\\3\\-6\\1\\9\\4\\-3\\8\\13\\-1\\ 10\\-2\\4\\6\\-1\\-7\\2\\3\\5\\1\\ -5\\6\\1\\2\\-3\\12\\4\\-1\\9\\3\\ 1\\4\\-10\\7\\5\\2\\-2\\6\\1\\-6\\ 4\\9\\2\\-1\\-4\\3\\8\\11\\-8\\2\\}
\skfrow{64}{2\\-6\\5\\12\\1\\-1\\4\\8\\-3\\6\\ 9\\3\\-2\\1\\-8\\5\\2\\-4\\11\\0\\ -1\\6\\4\\-5\\3\\9\\-2\\1\\7\\13\\ 4\\-3\\1\\2\\10\\-7\\5\\3\\-1\\6\\ 7\\1\\-9\\4\\-1\\3\\12\\-2\\6\\1\\ -2\\5\\3\\8\\-6\\1\\4\\-1\\2\\10\\ 3\\-1\\11\\2\\4\\-4\\-8\\6\\1\\5\\ 6\\2\\-3\\9\\1\\-1\\3\\14\\-5\\2\\ -7\\4\\1\\3\\6\\-2\\9\\1\\-1\\8\\ 1\\10\\-4\\5\\-1\\6\\2\\-9\\3\\4\\}
\skfrow{65}{5\\3\\-1\\-7\\9\\2\\6\\-3\\1\\11\\ -5\\1\\4\\8\\-1\\12\\3\\-2\\6\\2\\ 1\\7\\-3\\2\\5\\-9\\4\\10\\-1\\3\\ 10\\-2\\6\\1\\-4\\3\\-1\\5\\8\\-6\\ 2\\4\\-8\\13\\1\\-1\\6\\2\\-3\\7\\ -1\\9\\2\\-5\\3\\6\\1\\-7\\11\\4\\ 4\\-3\\1\\5\\12\\-1\\2\\8\\-6\\3\\ 1\\-10\\7\\3\\-2\\4\\9\\1\\5\\-1\\ 8\\2\\-1\\6\\3\\-4\\1\\11\\-2\\5\\ -3\\6\\4\\-1\\2\\10\\-8\\3\\1\\14\\}
\skfrow{66}{-2\\4\\9\\1\\-6\\3\\7\\-1\\12\\2\\ 6\\-1\\3\\-8\\5\\1\\10\\4\\-3\\2\\ 3\\11\\-5\\6\\2\\-2\\1\\8\\-1\\-7\\ 1\\5\\2\\-1\\9\\4\\-9\\3\\6\\10\\ 12\\-3\\4\\2\\-1\\7\\3\\-6\\1\\5\\ -4\\2\\6\\11\\1\\-2\\8\\3\\-1\\4\\ 2\\7\\-1\\3\\-8\\5\\1\\13\\4\\-3\\ 5\\-6\\2\\9\\3\\1\\-1\\4\\10\\-2\\ -1\\3\\8\\-4\\1\\6\\2\\-7\\5\\9\\ 9\\1\\-2\\4\\6\\-10\\3\\2\\-1\\7\\}
\skfrow{67}{3\\-8\\6\\2\\10\\-1\\4\\1\\-4\\9\\ -1\\5\\2\\12\\-6\\3\\8\\-2\\1\\4\\ 7\\1\\-3\\4\\-1\\9\\2\\-9\\6\\11\\ -5\\3\\10\\1\\2\\-2\\5\\6\\-1\\3\\ 4\\-1\\1\\7\\-7\\14\\2\\3\\-4\\6\\ 1\\8\\-2\\3\\5\\-1\\-6\\9\\2\\1\\ -3\\2\\12\\-1\\4\\6\\3\\-8\\1\\10\\ 6\\4\\-1\\1\\-5\\2\\11\\3\\-2\\5\\ 2\\-4\\3\\8\\1\\-1\\6\\-6\\13\\4\\ -1\\7\\5\\-3\\2\\1\\-9\\4\\6\\3\\}
\skfrow{68}{10\\2\\-5\\4\\1\\-1\\8\\-7\\3\\6\\ 2\\-3\\7\\1\\-1\\11\\4\\2\\-6\\5\\ -8\\4\\1\\6\\13\\-2\\3\\-1\\9\\2\\ 5\\1\\-4\\3\\2\\8\\-1\\12\\-5\\4\\ -1\\6\\3\\-9\\7\\1\\2\\4\\-2\\10\\ 3\\-2\\9\\5\\-1\\4\\-7\\1\\6\\2\\ 1\\12\\-1\\2\\-4\\3\\6\\-3\\8\\4\\ -6\\3\\4\\10\\1\\-1\\2\\5\\-8\\7\\ 4\\-1\\2\\-3\\9\\6\\1\\14\\-2\\1\\ 2\\5\\-10\\3\\1\\7\\-1\\4\\3\\-4\\}
\skfrow{69}{-4\\1\\7\\3\\-1\\12\\2\\5\\-8\\4\\ 8\\6\\-2\\1\\4\\-5\\3\\10\\-1\\2\\ 1\\-1\\5\\-7\\3\\6\\9\\2\\-3\\11\\ 4\\2\\-6\\9\\1\\-1\\3\\-4\\7\\5\\ -2\\10\\4\\1\\-9\\3\\6\\2\\-1\\13\\ 6\\-3\\1\\2\\8\\-2\\4\\-6\\3\\1\\ 3\\4\\-8\\6\\1\\11\\-1\\2\\5\\-4\\ -1\\9\\2\\-3\\5\\1\\7\\-10\\4\\6\\ 12\\-2\\3\\1\\-1\\4\\-5\\8\\2\\3\\ 1\\6\\-1\\5\\2\\-7\\10\\3\\-2\\4\\}
\skfrow{70}{6\\-1\\2\\-9\\4\\8\\1\\3\\-3\\11\\ -2\\4\\13\\1\\-6\\3\\2\\7\\-1\\5\\ 9\\1\\-4\\5\\2\\-1\\6\\-8\\10\\3\\ 2\\-7\\3\\1\\12\\4\\-2\\6\\1\\-1\\ -1\\5\\8\\-3\\2\\-10\\4\\1\\9\\3\\ 4\\2\\-1\\6\\-5\\1\\11\\3\\-2\\7\\ -6\\3\\5\\2\\1\\9\\-1\\-4\\6\\14\\ 3\\10\\-2\\4\\-8\\2\\1\\5\\3\\-1\\ 1\\-3\\7\\-1\\4\\6\\12\\-6\\2\\0\\ 5\\2\\-5\\9\\1\\-2\\3\\4\\-7\\8\\}
\skfrow{71}{1\\8\\-3\\5\\-1\\2\\-7\\10\\4\\3\\ 4\\-1\\6\\-5\\11\\1\\3\\-2\\2\\9\\ -9\\2\\1\\4\\7\\-3\\5\\12\\-1\\6\\ 3\\6\\-1\\2\\-4\\9\\1\\-8\\5\\2\\ 7\\-2\\4\\13\\1\\-1\\6\\3\\-6\\4\\ -1\\3\\10\\-7\\2\\5\\-3\\1\\8\\2\\ 2\\-5\\1\\3\\9\\-1\\4\\6\\-2\\11\\ 8\\1\\-6\\2\\4\\-9\\3\\1\\12\\-1\\ -3\\6\\2\\5\\-1\\1\\10\\-4\\3\\7\\ 4\\-1\\9\\1\\-8\\3\\2\\6\\-2\\5\\}
\skfrow{72}{-7\\3\\5\\1\\9\\-2\\4\\6\\-1\\12\\ 2\\10\\-4\\3\\1\\-1\\8\\-6\\5\\3\\ 6\\-1\\2\\-8\\4\\11\\1\\3\\-3\\7\\ 1\\4\\9\\-2\\-5\\3\\6\\14\\2\\-1\\ 5\\-9\\3\\1\\7\\2\\-1\\4\\10\\-4\\ -2\\6\\1\\12\\3\\-6\\5\\-1\\2\\8\\ 3\\1\\-3\\4\\-1\\9\\2\\-7\\6\\4\\ 11\\-2\\6\\1\\3\\-4\\-1\\5\\2\\9\\ -1\\5\\3\\-10\\2\\1\\7\\4\\-2\\6\\ 4\\2\\-6\\8\\1\\-1\\3\\13\\-3\\5\\}
\skfrow{73}{5\\-3\\1\\7\\-6\\2\\10\\3\\-1\\4\\ 1\\6\\-2\\4\\9\\-8\\3\\1\\11\\-1\\ -4\\2\\8\\1\\-1\\5\\3\\-9\\6\\12\\ 7\\-1\\3\\-6\\2\\4\\13\\1\\-2\\5\\ 2\\5\\-1\\3\\-7\\1\\6\\9\\4\\-3\\ -1\\11\\4\\2\\1\\-4\\-2\\7\\3\\6\\ 9\\2\\-5\\1\\6\\3\\-1\\4\\-8\\10\\ 3\\-1\\7\\-3\\2\\12\\5\\-6\\1\\2\\ -2\\4\\1\\6\\-1\\3\\-10\\8\\5\\1\\ 6\\1\\3\\-4\\10\\-1\\2\\4\\-5\\9\\}
\skfrow{74}{2\\9\\-1\\4\\-5\\1\\6\\-8\\3\\7\\ -3\\4\\1\\12\\2\\-1\\5\\3\\-7\\10\\ 4\\-6\\3\\2\\-1\\8\\1\\11\\-2\\5\\ 9\\1\\-4\\6\\3\\-9\\2\\4\\-1\\13\\ -1\\3\\5\\-2\\10\\1\\-6\\2\\7\\4\\ 6\\-1\\2\\3\\-3\\11\\4\\-1\\1\\-8\\ 1\\8\\-7\\5\\1\\2\\-1\\9\\4\\3\\ -5\\2\\4\\1\\14\\-2\\3\\6\\-1\\7\\ 3\\-1\\10\\-4\\2\\6\\1\\-9\\5\\2\\ 12\\4\\-2\\1\\-6\\3\\8\\1\\-3\\6\\}
\skfrow{75}{-1\\6\\3\\10\\-4\\1\\2\\-7\\9\\4\\ 5\\-2\\1\\-1\\7\\3\\-9\\6\\2\\12\\ 1\\3\\-5\\8\\2\\-1\\11\\4\\-3\\1\\ -6\\9\\2\\1\\4\\-2\\6\\3\\13\\-1\\ 4\\-1\\7\\-8\\3\\2\\1\\10\\-4\\5\\ 2\\5\\-3\\1\\12\\-6\\4\\2\\-1\\7\\ -2\\1\\6\\4\\-1\\9\\3\\-7\\5\\2\\ 8\\3\\-1\\2\\-10\\4\\6\\1\\-2\\11\\ 1\\-4\\5\\3\\2\\-1\\8\\-5\\14\\3\\ 6\\2\\-1\\9\\1\\-3\\4\\7\\-8\\2\\}
\skfrow{76}{7\\-2\\4\\1\\-1\\11\\3\\-6\\2\\8\\ -5\\3\\12\\2\\-1\\4\\6\\-3\\1\\9\\ 3\\1\\-1\\6\\-8\\2\\5\\10\\-4\\1\\ 1\\-7\\4\\3\\9\\-1\\2\\5\\-2\\13\\ 6\\2\\-3\\1\\4\\-9\\11\\3\\-1\\2\\ -1\\4\\1\\8\\-4\\3\\2\\-6\\10\\5\\ 2\\12\\-2\\3\\1\\-1\\6\\4\\-7\\3\\ -3\\1\\5\\-1\\7\\2\\-10\\9\\3\\4\\ 10\\-1\\2\\5\\-5\\6\\1\\3\\-2\\8\\ 1\\4\\-6\\2\\3\\14\\-1\\1\\6\\-4\\}
\skfrow{77}{3\\1\\-8\\5\\2\\-1\\9\\4\\-4\\12\\ 6\\-1\\3\\-6\\10\\1\\2\\-2\\7\\4\\ -2\\8\\1\\4\\-1\\3\\-7\\13\\2\\5\\ 1\\3\\-5\\11\\6\\-1\\4\\2\\-9\\3\\ 9\\-3\\2\\1\\-1\\5\\3\\8\\-4\\6\\ 2\\-1\\7\\3\\-8\\1\\12\\-2\\4\\1\\ -6\\5\\1\\9\\2\\-3\\3\\6\\-1\\10\\ 4\\2\\-1\\-4\\5\\14\\1\\-7\\3\\2\\ 1\\11\\-2\\6\\-1\\3\\4\\-5\\2\\8\\ -1\\3\\6\\2\\-10\\4\\1\\9\\-3\\5\\}
\skfrow{78}{-4\\5\\2\\9\\-1\\3\\-6\\1\\11\\2\\ 3\\-2\\7\\1\\4\\-8\\6\\12\\-1\\3\\ 10\\1\\-3\\4\\-1\\2\\5\\-5\\3\\8\\ 2\\-9\\6\\1\\3\\-1\\13\\4\\-2\\1\\ -1\\4\\1\\-6\\9\\2\\3\\-1\\7\\11\\ 5\\3\\-4\\2\\1\\10\\-1\\-7\\4\\2\\ 1\\6\\-1\\12\\-3\\4\\2\\1\\-8\\6\\ -2\\1\\9\\3\\-5\\1\\7\\4\\-1\\14\\ 4\\-6\\3\\1\\2\\-2\\10\\-1\\5\\3\\ 8\\2\\-1\\-3\\6\\1\\4\\-9\\3\\7\\}
\skfrow{79}{2\\7\\-1\\3\\-9\\5\\1\\10\\-2\\4\\ -1\\3\\6\\-4\\1\\12\\2\\-6\\8\\1\\ 5\\-7\\2\\1\\9\\-1\\4\\3\\-3\\11\\ 1\\4\\-2\\8\\3\\-5\\1\\6\\2\\-1\\ -8\\2\\10\\1\\-1\\4\\7\\-3\\3\\6\\ 3\\-1\\1\\5\\13\\-2\\2\\4\\-6\\9\\ 6\\1\\-4\\2\\-1\\3\\11\\-9\\1\\4\\ -3\\8\\3\\1\\6\\-1\\2\\5\\-7\\12\\ 1\\-2\\4\\10\\-1\\2\\-5\\3\\6\\1\\ 9\\3\\-6\\1\\4\\-1\\2\\14\\-2\\5\\}
\skfrow{80}{5\\-1\\3\\12\\-7\\2\\4\\1\\-3\\8\\ 1\\-4\\9\\2\\-1\\6\\-8\\3\\5\\10\\ -2\\6\\1\\3\\11\\-1\\2\\-6\\4\\1\\ 4\\1\\-9\\6\\2\\-2\\8\\3\\-1\\13\\ -1\\10\\3\\-4\\1\\5\\2\\-7\\9\\2\\ 7\\2\\-1\\1\\-5\\3\\12\\4\\-2\\6\\ 2\\-3\\6\\4\\1\\-1\\-10\\8\\3\\1\\ -6\\4\\1\\9\\3\\2\\-1\\5\\11\\-2\\ 3\\8\\-2\\1\\-1\\6\\4\\-4\\2\\7\\ 1\\-1\\5\\2\\10\\-8\\3\\1\\6\\4\\}
\skfrow{81}{-2\\4\\1\\6\\-1\\10\\3\\-5\\2\\9\\ 8\\3\\-6\\1\\4\\-1\\13\\2\\-3\\5\\ 1\\-1\\5\\-9\\2\\7\\3\\1\\-2\\11\\ 3\\6\\-1\\2\\-4\\1\\9\\-7\\6\\2\\ 12\\-2\\4\\1\\3\\-6\\2\\5\\-1\\8\\ -1\\5\\2\\-8\\7\\3\\1\\10\\4\\-3\\ 4\\1\\-1\\3\\-2\\14\\5\\-5\\1\\2\\ 2\\-7\\3\\6\\1\\-1\\4\\9\\-2\\6\\ -4\\9\\2\\1\\5\\-3\\11\\1\\3\\-10\\ 6\\2\\-1\\4\\-6\\3\\1\\12\\-1\\3\\}
\skfrow{82}{9\\-3\\2\\1\\-8\\4\\6\\-1\\3\\11\\ -1\\5\\1\\10\\3\\-5\\2\\7\\-2\\4\\ 3\\2\\-7\\4\\1\\-1\\9\\-4\\12\\1\\ -4\\1\\6\\2\\-1\\8\\3\\1\\-6\\5\\ 5\\13\\-1\\3\\-2\\1\\4\\-9\\2\\7\\ 1\\-2\\4\\6\\9\\-1\\2\\3\\-7\\1\\ -6\\3\\1\\-1\\5\\2\\10\\4\\-3\\8\\ 2\\7\\-4\\1\\3\\-1\\6\\-8\\4\\12\\ 4\\-1\\11\\2\\-5\\3\\1\\6\\-1\\2\\ -2\\5\\3\\9\\1\\-10\\4\\2\\14\\-1\\}
\skfrow{83}{1\\6\\-2\\3\\11\\-1\\4\\-7\\2\\5\\ 4\\-1\\8\\-5\\1\\3\\6\\2\\-9\\10\\ -3\\2\\1\\6\\-1\\12\\3\\-6\\4\\1\\ 7\\-1\\3\\1\\-8\\2\\5\\9\\-2\\4\\ 2\\4\\-4\\10\\3\\-1\\1\\6\\-5\\13\\ -1\\8\\2\\1\\-3\\5\\-1\\4\\3\\-7\\ 6\\1\\-6\\3\\2\\9\\-1\\11\\1\\-2\\ 3\\-9\\4\\1\\7\\-1\\2\\5\\-3\\6\\ -5\\2\\10\\4\\1\\-2\\3\\-1\\8\\2\\ 1\\12\\-1\\5\\-4\\6\\2\\-8\\3\\4\\}
\skfrow{84}{-6\\3\\2\\8\\-1\\5\\1\\12\\-3\\4\\ 2\\9\\-1\\4\\-7\\1\\6\\3\\-2\\11\\ 5\\-2\\3\\1\\6\\-9\\2\\4\\10\\-1\\ 1\\4\\-5\\2\\13\\3\\-1\\7\\-4\\2\\ 8\\-1\\2\\6\\-3\\1\\4\\-8\\5\\3\\ -2\\6\\11\\1\\4\\-1\\3\\2\\-6\\9\\ 3\\1\\-4\\5\\-1\\7\\-10\\6\\2\\1\\ 10\\-3\\1\\4\\2\\-1\\8\\1\\-5\\6\\ -1\\2\\6\\-7\\3\\12\\1\\4\\-2\\3\\ 4\\7\\-1\\2\\-4\\5\\9\\-1\\1\\14\\}
\skfrow{85}{4\\1\\-1\\10\\-5\\2\\7\\3\\-8\\6\\ -2\\6\\3\\1\\-1\\12\\-4\\2\\5\\1\\ 9\\-7\\4\\2\\1\\-1\\3\\8\\-3\\6\\ 1\\3\\-1\\-6\\11\\4\\2\\-2\\5\\10\\ -3\\2\\7\\1\\-1\\6\\-9\\3\\4\\1\\ 6\\-1\\1\\13\\3\\-2\\5\\1\\-5\\4\\ 2\\10\\-6\\3\\1\\4\\-1\\-3\\7\\2\\ -1\\4\\2\\5\\-10\\1\\9\\6\\3\\-2\\ 5\\-4\\1\\2\\8\\-1\\3\\-7\\12\\1\\ 3\\6\\-2\\1\\4\\-1\\11\\2\\-6\\5\\}
\skfrow{86}{2\\-5\\9\\1\\3\\-1\\6\\-3\\4\\12\\ 7\\1\\-2\\5\\-9\\3\\2\\10\\-1\\4\\ -1\\3\\6\\-4\\2\\1\\13\\-6\\5\\2\\ 4\\-8\\1\\3\\7\\-1\\2\\4\\-2\\9\\ 1\\6\\-3\\2\\-1\\11\\4\\1\\-7\\3\\ 10\\-1\\5\\-5\\2\\3\\1\\6\\-2\\1\\ -4\\2\\1\\8\\3\\-1\\-8\\4\\9\\5\\ 3\\12\\-1\\2\\-6\\4\\1\\-2\\6\\1\\ -2\\4\\7\\1\\-1\\3\\5\\-10\\2\\11\\ 6\\1\\-4\\3\\9\\-1\\2\\5\\-3\\4\\}
\skfrow{87}{-1\\8\\3\\-6\\2\\10\\1\\4\\-2\\5\\ 3\\-3\\1\\6\\12\\-1\\2\\-8\\4\\7\\ 1\\5\\-1\\2\\-4\\9\\3\\1\\-7\\11\\ 6\\2\\-9\\4\\1\\-2\\8\\3\\-1\\1\\ -5\\1\\4\\13\\2\\-1\\3\\-3\\6\\10\\ 2\\9\\-1\\1\\-6\\4\\2\\7\\-2\\3\\ 4\\-2\\6\\3\\1\\-10\\5\\1\\12\\-1\\ -3\\3\\1\\-1\\8\\2\\6\\-5\\4\\2\\ 11\\1\\-4\\5\\2\\-1\\1\\9\\-6\\3\\ 1\\-7\\2\\4\\6\\3\\-1\\2\\14\\-2\\}
\skfrow{88}{6\\2\\-4\\1\\9\\-1\\3\\-7\\5\\11\\ -1\\4\\2\\-3\\1\\8\\-6\\12\\3\\1\\ 2\\-8\\6\\3\\-1\\4\\10\\1\\-2\\5\\ 13\\1\\-1\\5\\-5\\2\\3\\-9\\4\\6\\ -2\\3\\8\\1\\-1\\6\\2\\4\\-4\\9\\ 4\\-6\\1\\2\\11\\3\\-1\\5\\-3\\1\\ 1\\7\\-2\\4\\-1\\2\\-8\\3\\6\\12\\ -4\\1\\10\\-1\\3\\5\\1\\-2\\2\\8\\ 3\\-1\\2\\6\\-10\\1\\4\\9\\-5\\2\\ 5\\3\\-3\\1\\2\\-1\\7\\4\\14\\-7\\}
\skfrow{89}{1\\-3\\5\\10\\-1\\2\\4\\-6\\3\\8\\ 9\\2\\-7\\1\\3\\-1\\6\\4\\-2\\12\\ -5\\1\\3\\-1\\7\\2\\-4\\11\\1\\6\\ 2\\10\\-1\\4\\-8\\3\\1\\5\\-3\\1\\ 4\\-2\\1\\6\\3\\13\\-9\\2\\-1\\7\\ -1\\5\\9\\-4\\2\\1\\3\\-6\\10\\4\\ 8\\1\\-1\\3\\-5\\6\\2\\1\\-2\\11\\ 2\\-10\\4\\1\\12\\-1\\3\\7\\-3\\2\\ -6\\3\\2\\8\\1\\-2\\5\\4\\-1\\9\\ 3\\6\\-1\\2\\-7\\4\\1\\3\\14\\-4\\}
\skfrow{90}{-3\\5\\1\\7\\-8\\3\\2\\11\\-1\\4\\ 2\\-1\\9\\3\\1\\-6\\5\\-2\\12\\6\\ 7\\3\\-4\\1\\-1\\10\\2\\-9\\4\\1\\ 1\\-5\\4\\2\\8\\-1\\3\\6\\-2\\13\\ 5\\2\\-1\\-7\\3\\1\\9\\4\\-3\\2\\ -1\\11\\3\\2\\-4\\6\\1\\-1\\7\\-6\\ 4\\1\\-2\\8\\1\\-10\\3\\5\\2\\9\\ 10\\-3\\6\\1\\-1\\2\\4\\-5\\3\\1\\ -2\\4\\1\\12\\5\\-1\\-7\\3\\6\\2\\ 3\\9\\-1\\2\\-3\\14\\1\\-4\\5\\1\\}
\skfrow{91}{8\\1\\-2\\4\\-6\\3\\10\\-1\\2\\5\\ -4\\3\\6\\-1\\1\\11\\-8\\4\\2\\9\\ 1\\7\\-1\\12\\-3\\2\\4\\1\\-5\\3\\ 3\\-2\\5\\1\\-9\\6\\2\\10\\-1\\4\\ -1\\4\\2\\8\\3\\-4\\1\\-6\\13\\1\\ 6\\-7\\1\\3\\-1\\5\\2\\9\\-2\\4\\ 2\\5\\-3\\1\\10\\-1\\6\\-4\\1\\3\\ -5\\1\\4\\6\\-2\\2\\12\\3\\-10\\7\\ 4\\2\\-1\\-6\\5\\1\\3\\-1\\8\\11\\ 1\\9\\-4\\2\\3\\-1\\5\\-3\\6\\2\\}
\skfrow{92}{2\\-6\\7\\1\\3\\-1\\12\\4\\-3\\6\\ 5\\1\\-1\\10\\-5\\2\\4\\-9\\3\\1\\ -2\\9\\4\\-1\\2\\6\\-4\\1\\11\\3\\ 4\\1\\-7\\3\\6\\-2\\1\\13\\-1\\5\\ 1\\-3\\2\\5\\-1\\9\\4\\-8\\2\\7\\ 12\\2\\-1\\4\\1\\-6\\3\\2\\-2\\6\\ -1\\6\\3\\-4\\8\\1\\-1\\5\\10\\-7\\ 3\\-2\\1\\9\\-1\\4\\2\\-5\\6\\1\\ 6\\4\\-9\\2\\1\\3\\11\\-1\\-3\\5\\ -4\\1\\5\\3\\14\\-1\\2\\6\\-6\\2\\}
\skfrow{93}{4\\10\\-1\\3\\-7\\1\\5\\2\\-4\\9\\ -1\\2\\6\\-3\\12\\4\\-2\\1\\7\\-6\\ 3\\-5\\1\\8\\2\\-1\\3\\11\\-9\\4\\ 6\\1\\-2\\4\\-1\\5\\9\\-4\\1\\2\\ -8\\3\\10\\1\\4\\-1\\2\\6\\-3\\13\\ 2\\6\\-1\\-5\\3\\1\\7\\4\\-2\\1\\ 1\\-2\\4\\11\\1\\-7\\2\\3\\-1\\8\\ 5\\3\\-6\\2\\-1\\9\\1\\-10\\6\\4\\ -3\\1\\2\\6\\-1\\3\\12\\2\\-4\\1\\ 7\\-1\\3\\1\\-8\\4\\2\\10\\-2\\5\\}
\skfrow{94}{-1\\3\\9\\-5\\2\\6\\-1\\12\\1\\4\\ 8\\-7\\2\\1\\5\\-1\\3\\-3\\10\\2\\ 1\\4\\-2\\6\\-9\\3\\1\\7\\-1\\11\\ -4\\2\\5\\1\\3\\-1\\13\\-6\\4\\2\\ 3\\9\\-1\\2\\-3\\4\\1\\-8\\6\\1\\ 5\\-1\\1\\-6\\11\\2\\3\\4\\-2\\7\\ -2\\6\\3\\1\\-1\\8\\-10\\2\\5\\3\\ 2\\1\\-4\\10\\3\\-1\\4\\1\\-7\\6\\ 9\\-3\\1\\2\\4\\-1\\6\\14\\-2\\1\\ 1\\5\\-8\\3\\2\\-2\\4\\1\\9\\-1\\}
\skfrow{95}{5\\2\\-3\\1\\10\\-1\\4\\-8\\3\\6\\ -2\\1\\4\\7\\-1\\12\\2\\-5\\1\\3\\ 6\\-1\\2\\-4\\3\\1\\9\\2\\-7\\11\\ 1\\8\\-6\\3\\-1\\2\\4\\-2\\6\\1\\ -1\\4\\2\\12\\1\\-9\\3\\5\\-3\\7\\ 3\\-4\\1\\2\\6\\-1\\10\\1\\-6\\4\\ 9\\1\\-1\\5\\-2\\3\\2\\-7\\4\\13\\ -3\\2\\6\\1\\-10\\4\\1\\3\\8\\-1\\ 2\\11\\-1\\4\\3\\-5\\1\\6\\-2\\2\\ 4\\-1\\7\\-6\\2\\1\\3\\9\\-1\\5\\}
\skfrow{96}{1\\7\\-4\\2\\3\\-1\\11\\-6\\5\\2\\ 3\\-1\\1\\9\\-8\\4\\6\\1\\-2\\10\\ -1\\5\\3\\-3\\1\\2\\-7\\12\\4\\1\\ 8\\2\\-1\\4\\-5\\6\\1\\3\\-2\\14\\ 2\\-9\\5\\1\\3\\-1\\4\\7\\-3\\2\\ -4\\3\\1\\10\\-1\\2\\6\\-6\\1\\5\\ 6\\1\\-2\\3\\4\\-8\\2\\1\\11\\-1\\ 1\\4\\-1\\7\\-3\\2\\13\\3\\-5\\2\\ -6\\2\\9\\1\\-1\\5\\3\\-2\\4\\8\\ 3\\-1\\2\\-10\\6\\1\\4\\12\\-3\\1\\}
\skfrow{97}{-5\\4\\2\\8\\-1\\3\\1\\-3\\12\\6\\ 1\\10\\-2\\3\\-6\\2\\5\\4\\-1\\1\\ 4\\-1\\7\\1\\2\\-9\\3\\6\\-4\\11\\ 2\\3\\-1\\5\\9\\-2\\1\\-7\\4\\1\\ 11\\-3\\1\\2\\-1\\6\\-5\\3\\8\\2\\ -1\\6\\4\\-8\\2\\1\\12\\-1\\3\\5\\ 3\\2\\-6\\1\\7\\-2\\4\\9\\-1\\-4\\ 1\\-4\\3\\13\\1\\-1\\2\\5\\-7\\6\\ 6\\1\\-1\\2\\-3\\10\\1\\4\\2\\-10\\ -2\\8\\5\\1\\3\\-1\\-6\\2\\9\\4\\}
\skfrow{98}{3\\-2\\1\\6\\11\\-1\\4\\-7\\2\\5\\ 9\\1\\-4\\2\\-1\\3\\8\\-9\\6\\1\\ -1\\4\\2\\-6\\5\\12\\1\\3\\-2\\7\\ 1\\-3\\10\\1\\2\\-1\\4\\6\\-8\\3\\ 5\\2\\-1\\3\\-5\\1\\7\\13\\-2\\4\\ -7\\1\\6\\2\\4\\-1\\3\\-3\\10\\1\\ 2\\9\\-1\\-4\\1\\5\\2\\6\\-6\\3\\ 4\\-1\\3\\1\\-2\\11\\-8\\2\\1\\7\\ -3\\6\\1\\4\\2\\-1\\5\\-5\\3\\12\\ 8\\2\\-1\\5\\-9\\3\\1\\4\\-1\\6\\}
\skfrow{99}{6\\-1\\4\\-8\\2\\9\\1\\3\\-2\\11\\ -3\\5\\1\\2\\10\\-1\\4\\-6\\3\\7\\ 2\\-1\\12\\3\\-4\\1\\6\\-9\\2\\4\\ 4\\6\\-2\\1\\-1\\8\\3\\2\\-5\\13\\ -1\\2\\5\\-7\\3\\1\\9\\-3\\4\\1\\ 10\\-2\\3\\1\\6\\-1\\-8\\4\\2\\5\\ 1\\4\\-5\\2\\1\\12\\-1\\3\\7\\-2\\ -4\\7\\2\\4\\-1\\3\\1\\-10\\6\\9\\ 3\\1\\-1\\11\\-6\\2\\5\\1\\-2\\4\\ 2\\9\\-3\\1\\4\\-1\\6\\2\\14\\-7\\}
\end{axis}
\end{tikzpicture}
\end{document}
